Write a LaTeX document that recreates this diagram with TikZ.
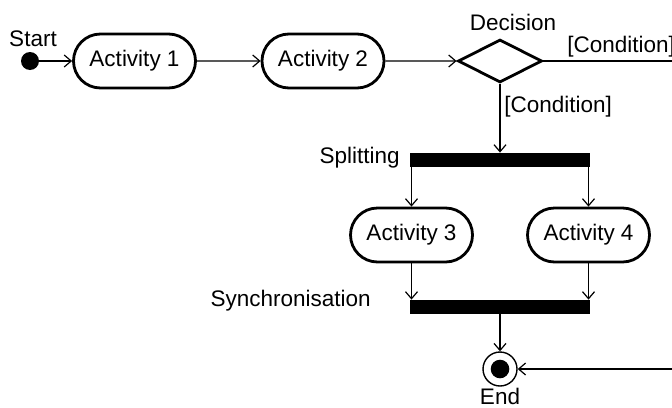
\documentclass[tikz,border=0pt]{standalone}
\usepackage{fontspec}
\setmainfont{Liberation Sans}
\usetikzlibrary{shapes.misc,shapes.geometric,arrows.meta}

\begin{document}
\begin{tikzpicture}[x=0.5pt,y=-0.5pt,
  every node/.style={font=\fontsize{11.25}{13}\selectfont},
  activity/.style={rounded rectangle, draw, line width=1.4pt,
    minimum width=61pt, minimum height=27pt, inner sep=0pt},
  syncbar/.style={fill=black, minimum width=90pt, minimum height=7pt, inner sep=0pt},
  flow/.style={line width=0.6pt, -{Straight Barb[length=3.5pt,width=6pt]}},
  plain/.style={line width=0.6pt},
  lbl/.style={inner sep=0pt}
]
\useasboundingbox (0,0) rectangle (672,407);

% initial and final states
\node[circle, fill=black, minimum size=9pt, inner sep=0pt] (start) at (30,61) {};
\node[lbl] (startlbl) at (33,39) {Start};

\node[circle, draw, line width=0.7pt, minimum size=17pt, inner sep=0pt] (end) at (500,369) {};
\node[circle, fill=black, minimum size=9.3pt, inner sep=0pt] (enddot) at (end.center) {};
\node[lbl] (endlbl) at (500,396) {End};

% activities
\node[activity] (a1) at (134.5,61) {Activity 1};
\node[activity] (a2) at (323,61) {Activity 2};
\node[activity] (a3) at (411.5,235) {Activity 3};
\node[activity] (a4) at (588.5,235) {Activity 4};

% decision
\node[diamond, draw, line width=1.4pt, minimum width=42pt, minimum height=21.5pt,
      inner sep=0pt] (dec) at (500,61) {};
\node[lbl] (declbl) at (513,22) {Decision};
\node[lbl, anchor=west] (condright) at (567,47) {[Condition]};
\node[lbl, anchor=west] (conddown) at (504,107) {[Condition]};

% fork and join bars
\node[syncbar] (split) at (500,160) {};
\node[lbl, anchor=east] (splitlbl) at (400,158) {Splitting};
\node[syncbar] (join) at (500,307) {};
\node[lbl, anchor=east] (joinlbl) at (371,301) {Synchronisation};

% free ends at the right edge
\coordinate (outright) at (672,61);
\coordinate (inright) at (672,369);

% transitions
\draw[flow] (start) -- (a1);
\draw[flow] (a1) -- (a2);
\draw[flow] (a2) -- (dec);
\draw[plain] (dec.east) -- (outright);
\draw[flow] (dec.south) -- (split.north);
\draw[flow] (split.south -| a3) -- (a3.north);
\draw[flow] (split.south -| a4) -- (a4.north);
\draw[flow] (a3.south) -- (join.north -| a3);
\draw[flow] (a4.south) -- (join.north -| a4);
\draw[flow] (join.south) -- (end.north);
\draw[flow] (inright) -- (end.east);
\end{tikzpicture}
\end{document}
